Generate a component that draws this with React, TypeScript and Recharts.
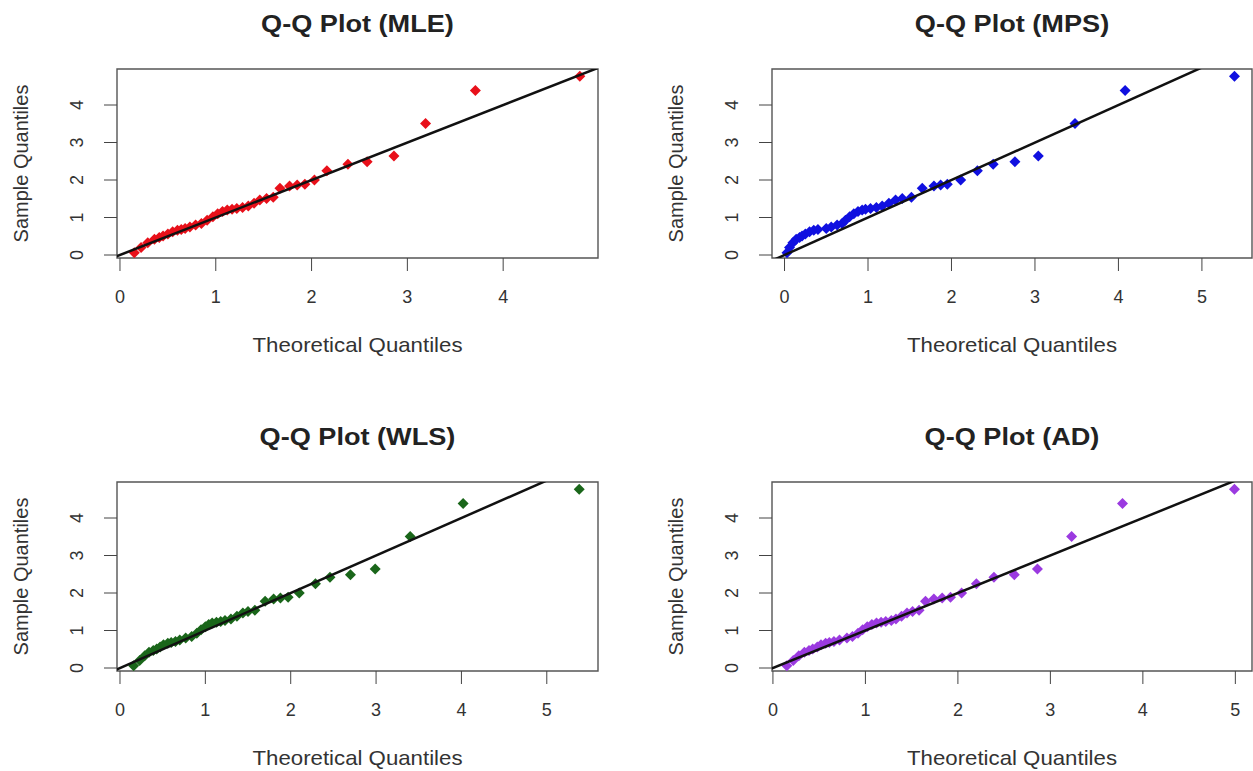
import { ScatterChart, Scatter, XAxis, YAxis, ReferenceArea } from "recharts";

// sorted sample (observed) quantiles, shared by all four fits
const sampleQuantiles = [
  0.06, 0.2, 0.33, 0.42, 0.47, 0.51, 0.56, 0.62, 0.66, 0.68, 0.71, 0.75, 0.8, 0.84, 0.93,
  1.02, 1.1, 1.16, 1.2, 1.22, 1.24, 1.27, 1.31, 1.38, 1.47, 1.51, 1.54, 1.78, 1.84, 1.87,
  1.89, 2.0, 2.25, 2.42, 2.49, 2.64, 3.51, 4.39, 4.77,
];

// theoretical quantiles per estimation method
const mleQuantiles = [
  0.15, 0.22, 0.29, 0.36, 0.41, 0.45, 0.5, 0.55, 0.6, 0.64, 0.68, 0.73, 0.79, 0.85, 0.91,
  0.97, 1.02, 1.07, 1.12, 1.17, 1.22, 1.28, 1.34, 1.4, 1.46, 1.53, 1.6, 1.67, 1.77, 1.85,
  1.93, 2.03, 2.16, 2.38, 2.58, 2.86, 3.19, 3.71, 4.8,
];
const mpsQuantiles = [
  0.03, 0.06, 0.1, 0.14, 0.18, 0.21, 0.25, 0.3, 0.35, 0.4, 0.5, 0.56, 0.63, 0.69, 0.73,
  0.78, 0.83, 0.88, 0.93, 0.97, 1.03, 1.1, 1.17, 1.25, 1.33, 1.41, 1.52, 1.65, 1.79, 1.87,
  1.95, 2.11, 2.31, 2.5, 2.76, 3.04, 3.48, 4.08, 5.39,
];
const wlsQuantiles = [
  0.16, 0.23, 0.29, 0.34, 0.39, 0.43, 0.47, 0.51, 0.56, 0.6, 0.65, 0.7, 0.77, 0.84, 0.9,
  0.95, 1.0, 1.04, 1.08, 1.13, 1.18, 1.23, 1.3, 1.37, 1.44, 1.5, 1.58, 1.7, 1.8, 1.88,
  1.97, 2.1, 2.29, 2.46, 2.7, 2.99, 3.4, 4.02, 5.38,
];
const adQuantiles = [
  0.15, 0.22, 0.28, 0.34, 0.39, 0.43, 0.48, 0.52, 0.57, 0.61, 0.66, 0.72, 0.8, 0.86, 0.92,
  0.97, 1.02, 1.07, 1.12, 1.17, 1.22, 1.28, 1.33, 1.39, 1.45, 1.51, 1.58, 1.65, 1.74, 1.83,
  1.92, 2.04, 2.2, 2.39, 2.61, 2.86, 3.23, 3.78, 4.99,
];

// qq reference line (abline 0,1), clipped to the plot box
const qqLine = [
  { x: -1, y: -1 },
  { x: 7, y: 7 },
];

const yTicks = [0, 1, 2, 3, 4];
const fourTicks = [0, 1, 2, 3, 4];
const fiveTicks = [0, 1, 2, 3, 4, 5];
const yDomain: [number, number] = [-0.08, 4.96];

const Y_AXIS_W = 117;
const TOP_M = 69;
const BOX_H = 189;
const X_AXIS_H = 100;

interface PanelProps {
  title: string;
  theo: number[];
  color: string;
  xDomain: [number, number];
  xTicks: number[];
  boxLeft: number;
  boxTop: number;
  boxW: number;
}

const YTick = ({ x, y, payload }: any) => (
  <text
    x={x}
    y={y}
    transform={`rotate(-90 ${x} ${y})`}
    textAnchor="middle"
    fontSize={18}
    fill="#333"
  >
    {payload.value}
  </text>
);

const diamond = (color: string) => (props: any) => {
  const { cx, cy } = props;
  if (cx == null || cy == null) return <g />;
  return (
    <polygon
      points={`${cx},${cy - 5.5} ${cx + 5.5},${cy} ${cx},${cy + 5.5} ${cx - 5.5},${cy}`}
      fill={color}
    />
  );
};

const noShape = () => <g />;

const QQPanel = ({ title, theo, color, xDomain, xTicks, boxLeft, boxTop, boxW }: PanelProps) => {
  const points = theo.map((x, i) => ({ x, y: sampleQuantiles[i] }));
  const chartW = Y_AXIS_W + boxW + 2;
  const chartH = TOP_M + BOX_H + X_AXIS_H;

  return (
    <div
      style={{
        position: "absolute",
        left: boxLeft - Y_AXIS_W,
        top: boxTop - TOP_M,
        width: chartW,
        height: chartH,
      }}
    >
      <div
        style={{
          position: "absolute",
          left: Y_AXIS_W,
          width: boxW,
          top: TOP_M - 45 - 14,
          lineHeight: "28px",
          fontSize: 24,
          fontWeight: "bold",
          color: "#222",
          textAlign: "center",
          transform: "scaleX(1.13)",
        }}
      >
        {title}
      </div>
      <ScatterChart
        width={chartW}
        height={chartH}
        margin={{ top: TOP_M, right: 2, bottom: 0, left: 0 }}
      >
        <XAxis
          type="number"
          dataKey="x"
          domain={xDomain}
          allowDataOverflow
          ticks={xTicks}
          interval={0}
          height={X_AXIS_H}
          axisLine={false}
          tickSize={13}
          tickMargin={19}
          tickLine={{ stroke: "#444" }}
          tick={{ fontSize: 18, fill: "#333" }}
          label={{
            content: () => (
              <text
                x={Y_AXIS_W + boxW / 2}
                y={TOP_M + BOX_H + 94}
                textAnchor="middle"
                fontSize={21}
                fill="#333"
                textLength={210}
                lengthAdjust="spacingAndGlyphs"
              >
                Theoretical Quantiles
              </text>
            ),
          }}
        />
        <YAxis
          type="number"
          dataKey="y"
          domain={yDomain}
          allowDataOverflow
          ticks={yTicks}
          interval={0}
          width={Y_AXIS_W}
          axisLine={false}
          tickSize={13}
          tickMargin={21}
          tickLine={{ stroke: "#444" }}
          tick={YTick}
          label={{
            content: () => {
              const lx = Y_AXIS_W - 89.5;
              const ly = TOP_M + BOX_H / 2;
              return (
                <text
                  x={lx}
                  y={ly}
                  transform={`rotate(-90 ${lx} ${ly})`}
                  textAnchor="middle"
                  fontSize={20}
                  fill="#333"
                >
                  Sample Quantiles
                </text>
              );
            },
          }}
        />
        <ReferenceArea
          x1={xDomain[0]}
          x2={xDomain[1]}
          y1={yDomain[0]}
          y2={yDomain[1]}
          fill="none"
          stroke="#555"
          strokeWidth={1.4}
          ifOverflow="visible"
        />
        <Scatter data={points} shape={diamond(color)} isAnimationActive={false} />
        <Scatter
          data={qqLine}
          shape={noShape}
          line={{ stroke: "#111", strokeWidth: 2.5 }}
          isAnimationActive={false}
        />
      </ScatterChart>
    </div>
  );
};

export default function App() {
  return (
    <div
      style={{
        position: "absolute",
        left: 0,
        top: 0,
        width: 1253,
        height: 771,
        overflow: "hidden",
        background: "#fff",
        fontFamily: "'Liberation Sans', Arial, sans-serif",
      }}
    >
      <QQPanel
        title="Q-Q Plot (MLE)"
        theo={mleQuantiles}
        color="#e8101a"
        xDomain={[-0.031, 4.99]}
        xTicks={fourTicks}
        boxLeft={117}
        boxTop={69}
        boxW={481}
      />
      <QQPanel
        title="Q-Q Plot (MPS)"
        theo={mpsQuantiles}
        color="#1010e0"
        xDomain={[-0.15, 5.6]}
        xTicks={fiveTicks}
        boxLeft={772}
        boxTop={69}
        boxW={480}
      />
      <QQPanel
        title="Q-Q Plot (WLS)"
        theo={wlsQuantiles}
        color="#1a661a"
        xDomain={[-0.035, 5.6]}
        xTicks={fiveTicks}
        boxLeft={117}
        boxTop={482}
        boxW={481}
      />
      <QQPanel
        title="Q-Q Plot (AD)"
        theo={adQuantiles}
        color="#9b3ae0"
        xDomain={[-0.01, 5.18]}
        xTicks={fiveTicks}
        boxLeft={772}
        boxTop={482}
        boxW={480}
      />
    </div>
  );
}
